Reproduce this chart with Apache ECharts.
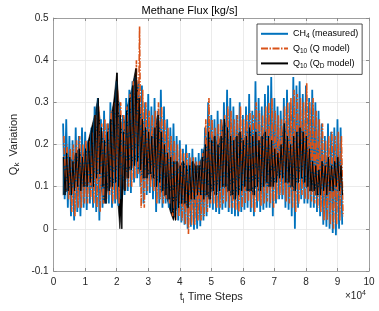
<!DOCTYPE html>
<html>
<head>
<meta charset="utf-8">
<script src="https://cdn.jsdelivr.net/npm/echarts@6/dist/echarts.min.js"></script>
<style>
html,body{margin:0;padding:0;background:#fff;}
#c{width:379px;height:311px;}
</style>
</head>
<body>
<div id="c"></div>
<script>
// time steps (x 10^4), read every 0.1e4 from 0.3e4 to 9.1e4
var tSteps = [0.3,0.4,0.5,0.6,0.7,0.8,0.9,1.0,1.1,1.2,1.3,1.4,1.5,1.6,1.7,1.8,1.9,2.0,2.1,2.2,2.3,2.4,2.5,2.6,2.7,2.8,2.9,3.0,3.1,3.2,3.3,3.4,3.5,3.6,3.7,3.8,3.9,4.0,4.1,4.2,4.3,4.4,4.5,4.6,4.7,4.8,4.9,5.0,5.1,5.2,5.3,5.4,5.5,5.6,5.7,5.8,5.9,6.0,6.1,6.2,6.3,6.4,6.5,6.6,6.7,6.8,6.9,7.0,7.1,7.2,7.3,7.4,7.5,7.6,7.7,7.8,7.9,8.0,8.1,8.2,8.3,8.4,8.5,8.6,8.7,8.8,8.9,9.0,9.1];

// CH4 measured: upper and lower swings
var ch4High = [0.25,0.26,0.22,0.21,0.24,0.22,0.24,0.23,0.21,0.24,0.29,0.31,0.26,0.28,0.25,0.30,0.28,0.35,0.30,0.27,0.31,0.33,0.35,0.36,0.35,0.34,0.30,0.32,0.29,0.31,0.28,0.33,0.29,0.26,0.24,0.25,0.22,0.21,0.19,0.20,0.18,0.19,0.17,0.18,0.19,0.24,0.30,0.27,0.26,0.28,0.26,0.30,0.33,0.31,0.29,0.27,0.30,0.27,0.29,0.32,0.28,0.35,0.31,0.29,0.32,0.34,0.36,0.31,0.29,0.28,0.31,0.33,0.30,0.36,0.34,0.35,0.32,0.34,0.31,0.33,0.30,0.28,0.25,0.22,0.25,0.23,0.24,0.26,0.24];
var ch4Low = [0.07,0.05,0.03,0.02,0.04,0.03,0.05,0.045,0.06,0.05,0.04,0.02,0.05,0.06,0.06,0.05,0.06,0.055,0.07,0.08,0.09,0.085,0.11,0.12,0.10,0.06,0.08,0.085,0.07,0.04,0.06,0.05,0.06,0.05,0.04,0.03,0.02,0.015,0.01,0.0,0.005,-0.002,0.0,0.006,0.02,0.03,0.05,0.045,0.04,0.035,0.045,0.05,0.04,0.035,0.03,0.03,0.04,0.045,0.05,0.04,0.03,0.05,0.04,0.045,0.05,0.05,0.03,0.06,0.07,0.07,0.05,0.045,0.03,0.0,0.05,0.07,0.06,0.06,0.05,0.05,0.04,0.03,0.01,0.005,0.0,-0.01,-0.015,0.0,0.01];

// Q10 (Q model)
var qHigh = [0.22,0.20,0.19,0.20,0.21,0.22,0.20,0.21,0.21,0.23,0.27,0.29,0.25,0.26,0.25,0.28,0.30,0.33,0.30,0.27,0.29,0.32,0.35,0.40,0.48,0.33,0.30,0.28,0.27,0.28,0.30,0.29,0.26,0.24,0.22,0.21,0.20,0.19,0.18,0.18,0.17,0.17,0.16,0.16,0.18,0.26,0.31,0.26,0.24,0.25,0.26,0.27,0.29,0.28,0.26,0.27,0.29,0.26,0.27,0.28,0.27,0.30,0.28,0.27,0.29,0.30,0.31,0.28,0.27,0.26,0.29,0.30,0.31,0.33,0.32,0.31,0.30,0.345,0.30,0.31,0.28,0.26,0.25,0.21,0.22,0.23,0.22,0.23,0.22];
var qLow = [0.09,0.07,0.04,0.03,0.05,0.05,0.06,0.06,0.07,0.06,0.05,0.04,0.06,0.07,0.08,0.06,0.07,0.06,0.08,0.09,0.10,0.10,0.12,0.13,0.05,0.05,0.09,0.10,0.09,0.06,0.07,0.06,0.07,0.06,0.03,0.02,0.03,0.02,0.01,-0.012,0.01,0.01,0.02,0.02,0.03,0.04,0.06,0.06,0.05,0.05,0.06,0.065,0.05,0.05,0.045,0.04,0.05,0.06,0.065,0.05,0.04,0.065,0.055,0.06,0.065,0.06,0.05,0.07,0.08,0.08,0.065,0.06,0.05,0.04,0.06,0.08,0.07,0.07,0.065,0.06,0.05,0.04,0.02,0.02,0.01,0.0,0.01,0.02,0.03];

// Q10 (QD model)
var qdHigh = [0.17,0.18,0.17,0.16,0.18,0.19,0.17,0.19,0.21,0.24,0.27,0.31,0.24,0.21,0.23,0.26,0.30,0.37,0.27,0.23,0.28,0.31,0.34,0.38,0.31,0.26,0.24,0.23,0.22,0.24,0.27,0.23,0.20,0.18,0.17,0.16,0.16,0.15,0.16,0.15,0.15,0.16,0.15,0.15,0.17,0.20,0.23,0.21,0.22,0.20,0.22,0.26,0.24,0.22,0.21,0.22,0.23,0.21,0.22,0.24,0.22,0.23,0.21,0.22,0.23,0.22,0.21,0.19,0.18,0.20,0.25,0.22,0.20,0.22,0.23,0.24,0.23,0.22,0.19,0.16,0.15,0.14,0.16,0.15,0.17,0.15,0.16,0.17,0.15];
var qdLow = [0.08,0.09,0.08,0.09,0.10,0.09,0.10,0.10,0.11,0.10,0.12,0.13,0.10,0.06,0.09,0.10,0.11,0.10,0.0,0.09,0.12,0.14,0.15,0.16,0.14,0.12,0.12,0.13,0.12,0.10,0.11,0.09,0.08,0.07,0.04,0.02,0.05,0.06,0.06,0.05,0.07,0.07,0.08,0.08,0.07,0.08,0.07,0.09,0.08,0.09,0.10,0.10,0.09,0.08,0.07,0.08,0.09,0.10,0.09,0.09,0.08,0.10,0.09,0.10,0.11,0.10,0.10,0.11,0.12,0.12,0.11,0.11,0.10,0.09,0.11,0.12,0.11,0.10,0.09,0.09,0.08,0.08,0.09,0.08,0.09,0.09,0.10,0.09,0.08];

var yTicks = [-0.1,0,0.1,0.2,0.3,0.4,0.5];
var xTicks = [0,1,2,3,4,5,6,7,8,9,10];

// each reading step gives one upper and one lower sample
function swing(hi, lo, offset) {
  var out = [];
  for (var i = 0; i < tSteps.length; i++) {
    var t = Math.round(tSteps[i] * 10000);
    out.push([t + offset, hi[i]]);
    out.push([t + offset + 500, lo[i]]);
  }
  return out;
}
// rows [timeStep, lower, upper] for the dense band
function bandRows(hi, lo) {
  return tSteps.map(function (t, i) { return [Math.round(t * 10000), lo[i], hi[i]]; });
}

var chart = echarts.init(document.getElementById('c'), null, {renderer: 'canvas'});
var FONT = 'Liberation Sans, Arial, sans-serif';
var axisCol = '#8c8c8c';
var txtCol = '#262626';
var BLUE = '#0072BD', ORANGE = '#D95319', BLACK = '#000000';

var qdRows = bandRows(qdHigh, qdLow);

// whole band drawn once as a polygon through the axis scales
function renderBand(params, api) {
  if (params.dataIndex !== 0) return null;
  var pts = [];
  var i;
  for (i = 0; i < qdRows.length; i++) pts.push(api.coord([qdRows[i][0], qdRows[i][2]]));
  for (i = qdRows.length - 1; i >= 0; i--) pts.push(api.coord([qdRows[i][0], qdRows[i][1]]));
  return {
    type: 'polygon',
    shape: {points: pts},
    style: {fill: BLACK, stroke: BLACK, lineWidth: 0.6}
  };
}

var series = [{
  name: 'CH4 (measured)', type: 'line', symbol: 'none',
  color: BLUE,
  lineStyle: {color: BLUE, width: 1.8},
  data: swing(ch4High, ch4Low, 0)
}, {
  name: 'Q10 (Q model)', type: 'line', symbol: 'none',
  color: ORANGE,
  lineStyle: {color: ORANGE, width: 1.6, type: [7, 1.5, 1.5, 1.5]},
  data: swing(qHigh, qLow, 250)
}, {
  name: 'qd_band', type: 'custom', silent: true,
  encode: {x: 0, y: [1, 2]},
  renderItem: renderBand,
  data: qdRows
}, {
  name: 'Q10 (QD model)', type: 'line', symbol: 'none',
  color: BLACK,
  lineStyle: {color: BLACK, width: 1},
  data: swing(qdHigh, qdLow, 120)
}];

chart.setOption({
  animation: false,
  backgroundColor: '#fff',
  title: {
    text: 'Methane Flux [kg/s]',
    left: 'center', top: 0,
    textStyle: {fontFamily: FONT, fontSize: 11, fontWeight: 'normal', color: '#000'}
  },
  grid: {left: 44, right: 10, top: 18, bottom: 40},
  legend: {
    orient: 'vertical', left: 257, top: 24,
    padding: [5, 4, 5, 3],
    itemWidth: 27, itemHeight: 12, itemGap: 4,
    backgroundColor: '#fff', borderColor: '#262626', borderWidth: 0.8,
    itemStyle: {opacity: 0},
    data: ['CH4 (measured)', 'Q10 (Q model)', 'Q10 (QD model)'],
    formatter: function (n) {
      if (n === 'CH4 (measured)') return '{n|CH}{s|4}{n| (measured)}';
      if (n === 'Q10 (Q model)') return '{n|Q}{s|10}{n| (Q model)}';
      return '{n|Q}{s|10}{n| (Q}{s|D}{n| model)}';
    },
    textStyle: {
      fontFamily: FONT, color: '#000',
      rich: {
        n: {fontFamily: FONT, fontSize: 9, color: '#000'},
        s: {fontFamily: FONT, fontSize: 6.5, color: '#000', padding: [5, 0, 0, 0]}
      }
    }
  },
  xAxis: [{
    type: 'value', min: 0, max: 100000, interval: 10000,
    name: '{n|t}{s|i}{n| Time Steps}', nameLocation: 'middle', nameGap: 19,
    nameTextStyle: {
      rich: {
        n: {fontFamily: FONT, fontSize: 11, color: txtCol},
        s: {fontFamily: FONT, fontSize: 8, color: txtCol, padding: [6, 0, 0, 0]}
      }
    },
    axisLine: {show: true, onZero: false, lineStyle: {color: axisCol, width: 0.8}},
    axisTick: {show: true, inside: true, length: 3, lineStyle: {color: axisCol}},
    axisLabel: {fontFamily: FONT, fontSize: 10, color: txtCol, margin: 6,
      formatter: function (v) { return String(Math.round(v / 10000)); }},
    splitLine: {show: true, lineStyle: {color: '#e6e6e6', width: 0.8}}
  }, {
    type: 'value', min: 0, max: 100000, interval: 10000, position: 'top',
    axisLine: {show: true, onZero: false, lineStyle: {color: axisCol, width: 0.8}},
    axisTick: {show: true, inside: true, length: 3, lineStyle: {color: axisCol}},
    axisLabel: {show: false}, splitLine: {show: false}
  }],
  yAxis: [{
    type: 'value', min: -0.1, max: 0.5, interval: 0.1,
    name: '{n|Q}{s|k}{n|  Variation}', nameLocation: 'middle', nameGap: 31,
    nameTextStyle: {
      rich: {
        n: {fontFamily: FONT, fontSize: 11, color: txtCol},
        s: {fontFamily: FONT, fontSize: 8, color: txtCol, padding: [6, 0, 0, 0]}
      }
    },
    axisLine: {show: true, onZero: false, lineStyle: {color: axisCol, width: 0.8}},
    axisTick: {show: true, inside: true, length: 3, lineStyle: {color: axisCol}},
    axisLabel: {fontFamily: FONT, fontSize: 10, color: txtCol, margin: 5,
      formatter: function (v) { return String(+v.toFixed(1)); }},
    splitLine: {show: true, lineStyle: {color: '#e6e6e6', width: 0.8}}
  }, {
    type: 'value', min: -0.1, max: 0.5, interval: 0.1, position: 'right',
    axisLine: {show: true, onZero: false, lineStyle: {color: axisCol, width: 0.8}},
    axisTick: {show: true, inside: true, length: 3, lineStyle: {color: axisCol}},
    axisLabel: {show: false}, splitLine: {show: false}
  }],
  graphic: [{
    type: 'text', left: 345, top: 290,
    style: {
      text: '{a|×10}{b|4}',
      rich: {
        a: {fontFamily: FONT, fontSize: 10, fill: txtCol, padding: [5, 0, 0, 0]},
        b: {fontFamily: FONT, fontSize: 7, fill: txtCol}
      }
    }
  }],
  series: series
});
</script>
</body>
</html>
